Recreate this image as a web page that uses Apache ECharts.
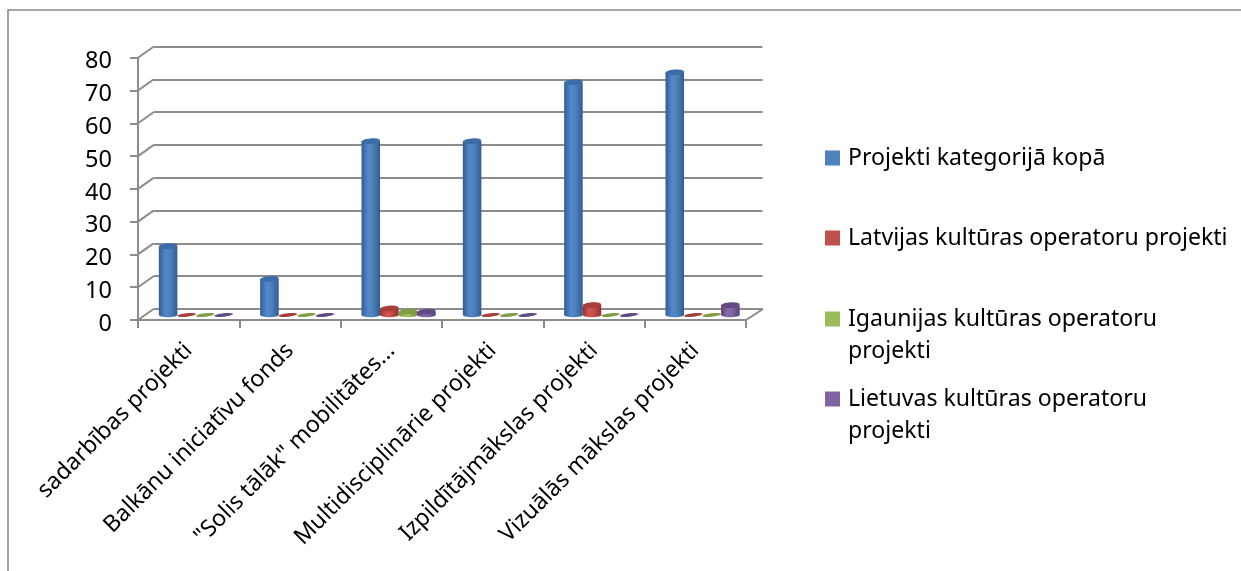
<!DOCTYPE html>
<html>
<head>
<meta charset="utf-8">
<style>
  html, body { margin: 0; padding: 0; background: #fff; }
  #chart { width: 1241px; height: 571px; }
</style>
<script src="https://cdn.jsdelivr.net/npm/echarts@6/dist/echarts.min.js"></script>
</head>
<body>
<div id="chart"></div>
<script>
// Project counts per programme category
const categories = ['sadarbības projekti', 'Balkānu iniciatīvu fonds', '"Solis tālāk" mobilitātes...', 'Multidisciplinārie projekti', 'Izpildītājmākslas projekti', 'Vizuālās mākslas projekti'];
const totalProjects = [21, 11, 53, 53, 71, 74];
const latvianProjects = [0, 0, 2, 0, 3, 0];
const estonianProjects = [0, 0, 1, 0, 0, 0];
const lithuanianProjects = [0, 0, 1, 0, 0, 3];
const yTicks = [0, 10, 20, 30, 40, 50, 60, 70, 80];

const seriesNames = ['Projekti kategorijā kopā', 'Latvijas kultūras operatoru projekti', 'Igaunijas kultūras operatoru\nprojekti', 'Lietuvas kultūras operatoru\nprojekti'];
const seriesValues = [totalProjects, latvianProjects, estonianProjects, lithuanianProjects];
const palette = [
  { flat: '#4F81BD', edge: '#2F5E93', light: '#5089CB', cap: '#3A6CA6' },
  { flat: '#C0504D', edge: '#93302E', light: '#D45552', cap: '#A83F3C' },
  { flat: '#9BBB59', edge: '#6F8F35', light: '#A6CB5C', cap: '#7F9E42' },
  { flat: '#8064A2', edge: '#5A4079', light: '#8A6BB0', cap: '#644A85' }
];

const FONT = '"Noto Sans", Lato, sans-serif';
const GRAY = '#8C8C8C';
// Depth of the floor, in pixels: the back wall sits up and to the right of the front axes
const DEPTH_X = 15.5;
const DEPTH_Y = 11;

// Draws one cylinder standing mid-way across the floor
function cylinder(seriesIndex) {
  const c = palette[seriesIndex];
  return function (params, api) {
    const band = api.size([1, 0])[0];
    const w = band * 0.183;
    const base = api.coord([api.value(0), 0]);
    const top = api.coord([api.value(0), api.value(1)]);
    const cx = base[0] + (seriesIndex - 1.5) * w + DEPTH_X / 2 - 0.5;
    const by = base[1] - 5;
    const ty = top[1] - 5;
    const gradient = new echarts.graphic.LinearGradient(0, 0, 1, 0, [
      { offset: 0, color: c.edge },
      { offset: 0.35, color: c.light },
      { offset: 0.6, color: c.flat },
      { offset: 1, color: c.edge }
    ]);
    const children = [];
    if (api.value(1) > 0) {
      children.push({ type: 'ellipse', shape: { cx: cx, cy: by, rx: w / 2, ry: 2.2 }, style: { fill: gradient } });
      children.push({ type: 'rect', shape: { x: cx - w / 2, y: ty, width: w, height: by - ty }, style: { fill: gradient } });
    }
    const flat = api.value(1) === 0;
    children.push({
      type: 'ellipse',
      shape: { cx: 0, cy: 0, rx: w / 2, ry: flat ? 1.7 : 2.8 },
      x: cx, y: ty,
      rotation: flat ? 0.1 : 0.07,
      style: { fill: c.cap }
    });
    return { type: 'group', children: children };
  };
}

// Slanted lines joining each front tick to its gridline on the back wall
function depthLine(params, api) {
  const y = api.coord([0, api.value(1)])[1];
  const x = params.coordSys.x;
  return {
    type: 'line',
    shape: { x1: x, y1: y, x2: x + DEPTH_X, y2: y - DEPTH_Y },
    style: { stroke: GRAY, lineWidth: 2 }
  };
}

// Right-hand edge of the floor
function floorEdge(params, api) {
  const cs = params.coordSys;
  const y = api.coord([0, 0])[1];
  const x = cs.x + cs.width;
  return {
    type: 'line',
    shape: { x1: x, y1: y, x2: x + DEPTH_X + 1.5, y2: y - DEPTH_Y },
    style: { stroke: GRAY, lineWidth: 2 }
  };
}

const legendTops = [142, 222, 271, 351];
const legends = seriesNames.map(function (name, i) {
  return {
    data: [{ name: name, icon: 'rect' }],
    left: 825,
    top: legendTops[i],
    orient: 'vertical',
    padding: 0,
    itemWidth: 15,
    itemHeight: 15,
    itemGap: 0,
    selectedMode: false,
    textStyle: { fontFamily: FONT, fontSize: 23.1, color: '#000', lineHeight: 32, padding: [0, 0, 0, 3] },
    // A leading blank line keeps the swatch level with the first line of wrapped names
    formatter: function (n) { return n.indexOf('\n') >= 0 ? '\n' + n : n; }
  };
});

const chart = echarts.init(document.getElementById('chart'), null, { renderer: 'canvas' });
chart.setOption({
  backgroundColor: '#fff',
  animation: false,
  legend: legends,
  graphic: [{
    type: 'polyline',
    silent: true,
    shape: { points: [[8, 571], [8, 10], [1241, 10]] },
    style: { stroke: '#8A8A8A', lineWidth: 1.6, fill: 'none' }
  }],
  grid: [
    { left: 138, top: 57.7, width: 608, height: 262.3 },
    { left: 153.5, top: 46.5, width: 609, height: 262.5 }
  ],
  xAxis: [
    {
      type: 'category',
      gridIndex: 0,
      data: categories,
      axisLine: { lineStyle: { color: GRAY, width: 2 } },
      axisTick: { show: true, length: 8, alignWithLabel: false, lineStyle: { color: GRAY, width: 2 } },
      axisLabel: { interval: 0, rotate: 45, margin: 27, fontFamily: FONT, fontSize: 23.1, color: '#000' },
      z: 3
    },
    { type: 'category', gridIndex: 1, data: categories, show: false }
  ],
  yAxis: [
    {
      type: 'value',
      gridIndex: 0,
      min: 0,
      max: 80,
      interval: 10,
      axisLine: { show: true, lineStyle: { color: GRAY, width: 2 } },
      axisTick: { show: true, length: 8, lineStyle: { color: GRAY, width: 2 } },
      // Top-aligned with a short line box to sit the digits just below each tick
      axisLabel: { margin: 26, fontFamily: FONT, fontSize: 23.5, color: '#000', verticalAlign: 'top', lineHeight: 8 },
      splitLine: { show: false },
      z: 3
    },
    {
      type: 'value',
      gridIndex: 1,
      min: 0,
      max: 80,
      interval: 10,
      axisLine: { show: false },
      axisTick: { show: false },
      axisLabel: { show: false },
      splitLine: { show: true, lineStyle: { color: GRAY, width: 2 } }
    }
  ],
  series: [
    {
      type: 'custom',
      silent: true,
      xAxisIndex: 0,
      yAxisIndex: 0,
      renderItem: depthLine,
      data: yTicks.map(function (t) { return [0, t]; }),
      encode: { x: 0, y: 1 },
      z: 1
    },
    {
      type: 'custom',
      silent: true,
      xAxisIndex: 0,
      yAxisIndex: 0,
      renderItem: floorEdge,
      data: [[0, 0]],
      encode: { x: 0, y: 1 },
      z: 1
    }
  ].concat(seriesValues.map(function (values, i) {
    return {
      name: seriesNames[i],
      type: 'custom',
      xAxisIndex: 0,
      yAxisIndex: 0,
      itemStyle: { color: palette[i].flat },
      renderItem: cylinder(i),
      data: values.map(function (v, k) { return [k, v]; }),
      encode: { x: 0, y: 1 },
      z: 5
    };
  }))
});
</script>
</body>
</html>
